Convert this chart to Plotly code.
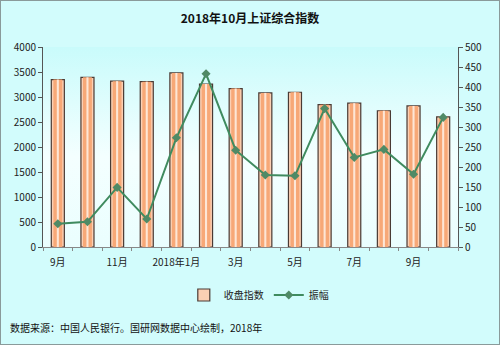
import plotly.graph_objects as go
import base64

months = ["2017-09", "2017-10", "2017-11", "2017-12", "2018-01", "2018-02", "2018-03",
          "2018-04", "2018-05", "2018-06", "2018-07", "2018-08", "2018-09", "2018-10"]
close_index = [3348.94, 3393.34, 3317.19, 3307.17, 3480.83, 3259.41, 3168.90,
               3082.23, 3095.47, 2847.42, 2876.40, 2725.25, 2821.35, 2602.78]
amplitude = [58, 63, 149, 70, 273, 433, 242, 180, 178, 346, 224, 244, 182, 324]
tick_labels = ["9月", "", "11月", "", "2018年1月", "", "3月", "", "5月", "", "7月", "", "9月", ""]

x = list(range(len(months)))
shown = [i for i, t in enumerate(tick_labels) if t]

font = "Noto Sans CJK SC"
fig = go.Figure()

# outer bar (legend entry)
fig.add_trace(go.Bar(x=x, y=close_index, name="收盘指数", width=0.44,
                     marker=dict(color="#fbd0b4", line=dict(color="#4a3a34", width=1.2)),
                     yaxis="y"))
fig.add_trace(go.Bar(x=x, y=close_index, width=0.3, showlegend=False, hoverinfo="skip",
                     marker=dict(color="#f7a877", line=dict(width=0)), yaxis="y"))
fig.add_trace(go.Bar(x=x, y=close_index, width=0.07, showlegend=False, hoverinfo="skip",
                     marker=dict(color="#fde6d6", line=dict(width=0)), yaxis="y"))

fig.add_trace(go.Scatter(x=x, y=amplitude, name="振幅", mode="lines+markers",
                         line=dict(color="#3f8b5f", width=2),
                         marker=dict(symbol="diamond", size=7, color="#4f8a66"),
                         yaxis="y2"))

svg = ('<svg xmlns="http://www.w3.org/2000/svg" width="100" height="100" preserveAspectRatio="none">'
       '<defs><linearGradient id="g" x1="0" y1="0" x2="0" y2="1">'
       '<stop offset="0" stop-color="#c9fbfb"/><stop offset="0.55" stop-color="#f4ffff"/>'
       '<stop offset="1" stop-color="#eafefe"/></linearGradient></defs>'
       '<rect width="100" height="100" fill="url(#g)"/></svg>')
uri = "data:image/svg+xml;base64," + base64.b64encode(svg.encode()).decode()

fig.update_layout(
    width=500, height=345,
    margin=dict(l=43, r=42, t=47, b=98),
    paper_bgcolor="#d2fcfc",
    plot_bgcolor="rgba(0,0,0,0)",
    barmode="overlay",
    showlegend=True,
    title=dict(text="<b>2018年10月上证综合指数</b>", x=0.5, xanchor="center", y=0.945, yanchor="middle",
               font=dict(family=font, size=12, color="#111")),
    font=dict(family=font, size=10, color="#222"),
    xaxis=dict(range=[-0.5, len(months) - 0.5], tickvals=shown,
               ticktext=[tick_labels[i] for i in shown], ticks="", showgrid=False,
               showline=True, linecolor="#888", linewidth=1, zeroline=False,
               tickfont=dict(size=10), ticklabelstandoff=6,
               minor=dict(tick0=0.5, dtick=1, ticks="outside", ticklen=3, tickcolor="#888")),
    yaxis=dict(range=[0, 4000], dtick=500, showgrid=False, ticks="outside", ticklen=4,
               showline=True, linecolor="#555", linewidth=1, tickcolor="#555",
               zeroline=False, tickfont=dict(size=10)),
    yaxis2=dict(range=[0, 500], dtick=50, overlaying="y", side="right", showgrid=False,
                ticks="outside", ticklen=4, showline=True, linecolor="#555", linewidth=1,
                tickcolor="#555", zeroline=False, tickfont=dict(size=10)),
    legend=dict(orientation="h", x=0.52, xanchor="center", y=-0.24, yanchor="middle",
                bgcolor="rgba(0,0,0,0)", font=dict(size=10), itemwidth=30),
    images=[dict(source=uri, xref="paper", yref="paper", x=0, y=1, sizex=1, sizey=1,
                 sizing="stretch", layer="below")],
    shapes=[dict(type="rect", xref="paper", yref="paper", x0=-43/415, x1=1+42/415,
                 y0=-98/200, y1=1+47/200, line=dict(color="#8a9a9a", width=2))],
    annotations=[dict(text="数据来源：中国人民银行。国研网数据中心绘制，2018年", xref="paper", yref="paper",
                      x=-35/415, y=-80/200, xanchor="left", yanchor="middle", showarrow=False,
                      font=dict(size=10, color="#111"))],
)

fig.write_html("out.html")
